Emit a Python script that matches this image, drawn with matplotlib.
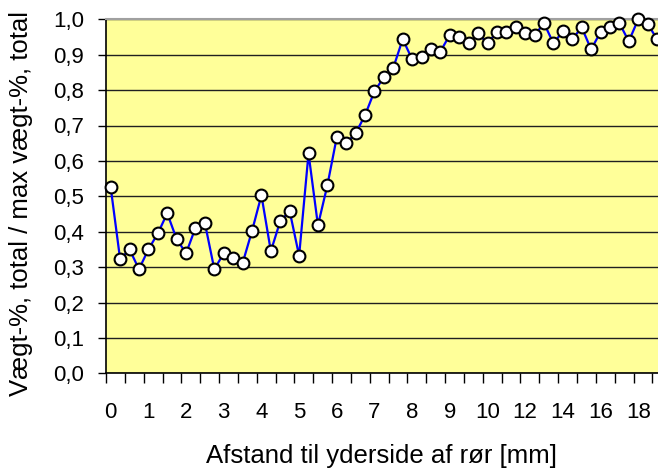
import matplotlib
matplotlib.use('Agg')
import matplotlib.pyplot as plt
import numpy as np

plt.rcParams['font.family'] = ['Liberation Sans', 'DejaVu Sans']

# distance from outer side of pipe [mm] (category axis)
afstand = [0, 0.25, 0.5, 0.75, 1, 1.25, 1.5, 1.75, 2, 2.25, 2.5, 2.75,
           3, 3.25, 3.5, 3.75, 4, 4.25, 4.5, 4.75, 5, 5.25, 5.5, 5.75,
           6, 6.25, 6.5, 6.75, 7, 7.25, 7.5, 7.75, 8, 8.25, 8.5, 8.75,
           9, 9.25, 9.5, 9.75, 10, 10.5, 11, 11.5, 12, 12.5, 13, 13.5,
           14, 14.5, 15, 15.5, 16, 16.5, 17, 17.5, 18, 18.5, 19]

# weight-% total / max weight-% total
vaegt = [0.525, 0.322, 0.350, 0.294, 0.350, 0.395, 0.452, 0.379, 0.339, 0.411,
         0.424, 0.294, 0.339, 0.327, 0.311, 0.402, 0.503, 0.345, 0.430, 0.458,
         0.332, 0.621, 0.418, 0.531, 0.667, 0.650, 0.678, 0.729, 0.797, 0.836,
         0.863, 0.944, 0.887, 0.893, 0.915, 0.909, 0.956, 0.949, 0.932, 0.960,
         0.932, 0.964, 0.964, 0.979, 0.960, 0.955, 0.989, 0.932, 0.966, 0.944,
         0.977, 0.915, 0.964, 0.977, 0.989, 0.938, 1.000, 0.987, 0.944]

label_idx = [0, 4, 8, 12, 16, 20, 24, 28, 32, 36, 40, 44, 48, 52, 56]
y_ticks = [0.0, 0.1, 0.2, 0.3, 0.4, 0.5, 0.6, 0.7, 0.8, 0.9, 1.0]

fig = plt.figure(figsize=(6.58, 4.74), dpi=100)
ax = fig.add_axes([106 / 658, (474 - 373.3) / 474, (658 - 106) / 658, (373.3 - 19.3) / 474])
ax.set_facecolor('#FFFF99')

idx = np.arange(len(vaegt))
ax.plot(idx, vaegt, color='#0000FF', lw=1.6, marker='o', markersize=8.5,
        markerfacecolor='white', markeredgecolor='black', markeredgewidth=1.5,
        clip_on=False, zorder=5)

ax.set_xlim(-0.5, 58.1)
ax.set_ylim(0, 1.0)

ax.set_yticks(y_ticks)
ax.set_yticklabels(['{:.1f}'.format(v).replace('.', ',') for v in y_ticks])
ax.yaxis.grid(True, color='#202020', lw=1.0)
ax.set_axisbelow(True)

ax.set_xticks(label_idx)
ax.set_xticklabels([str(int(afstand[i])) for i in label_idx])
ax.set_xticks(np.arange(-0.5, 58.1, 2), minor=True)
ax.tick_params(axis='x', which='major', length=0, pad=21, labelsize=16)
ax.tick_params(axis='x', which='minor', length=7, width=1, color='black', direction='out')
ax.tick_params(axis='y', length=6, width=1, color='black', pad=10, labelsize=16)

for s in ['left', 'bottom']:
    ax.spines[s].set_color('black')
    ax.spines[s].set_linewidth(1.2)
ax.spines['top'].set_color('#A0A0A0')
ax.spines['top'].set_linewidth(1.5)
ax.spines['right'].set_visible(False)

fig.text((106 + 658) / 2 / 658, (474 - 456) / 474, 'Afstand til yderside af rør [mm]',
         ha='center', va='center', fontsize=18.5)
fig.text(21 / 658, (474 - 204) / 474, 'Vægt-%, total / max vægt-%, total',
         ha='center', va='center', rotation=90, fontsize=18.5)

fig.savefig('out.png', dpi=100)
